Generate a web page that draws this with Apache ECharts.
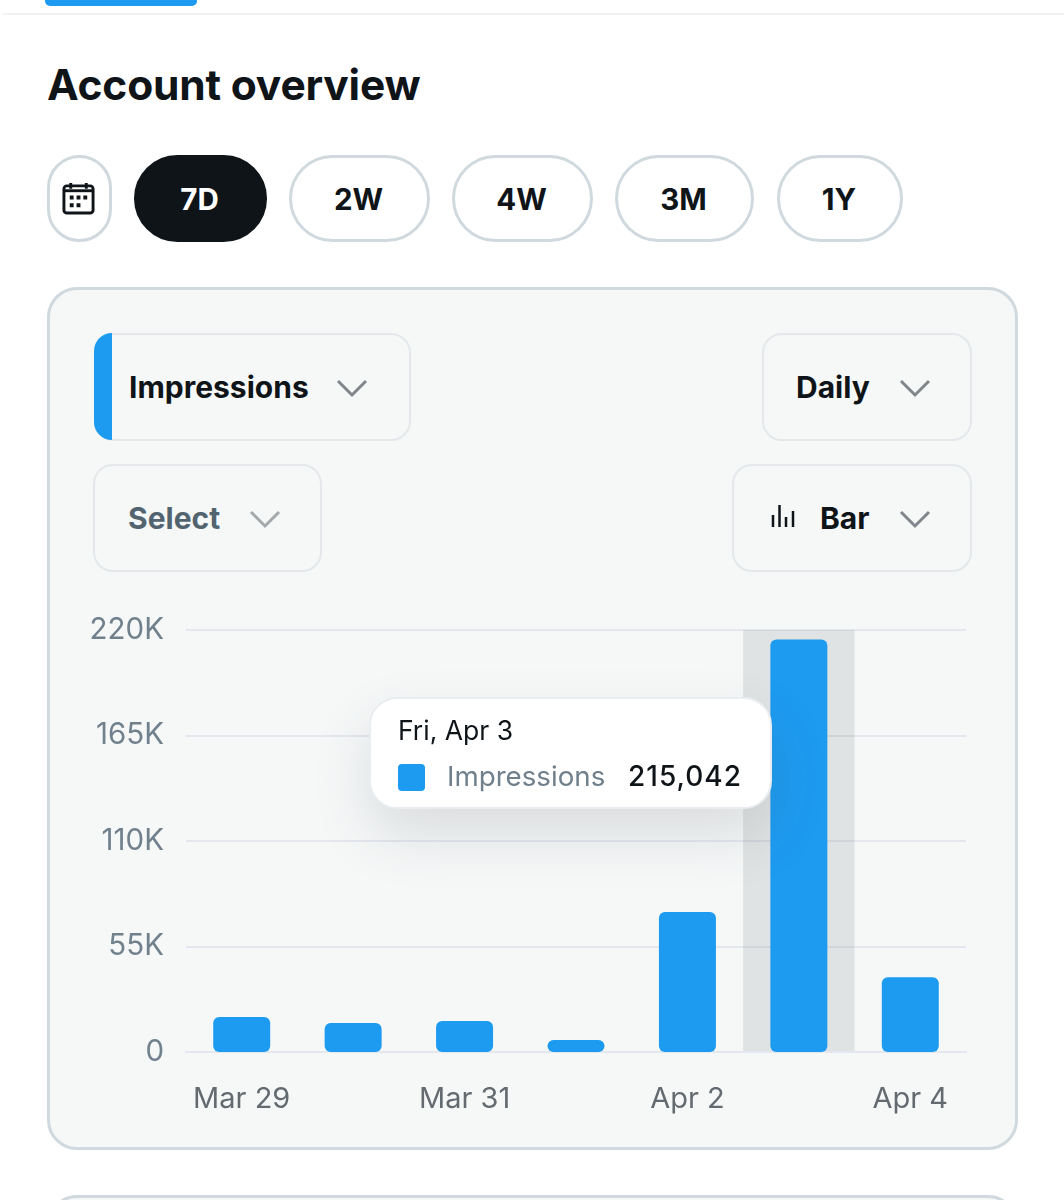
<!DOCTYPE html>
<html>
<head>
<meta charset="utf-8">
<title>Account overview</title>
<script src="https://cdn.jsdelivr.net/npm/echarts@6/dist/echarts.min.js"></script>
<style>
    html, body { margin: 0; padding: 0; background: #fff; }
    body { position: relative; width: 1064px; height: 1200px; overflow: hidden; font-family: Inter, "Noto Sans", sans-serif; color: #0f1419; }
    .abs { position: absolute; box-sizing: border-box; }
    .topbar { left: 45px; top: -8px; width: 152px; height: 14px; background: #1d9bf0; border-radius: 5px; }
    .divider { left: 3px; top: 13px; width: 1061px; height: 2px; background: #eff1f2; }
    h1 { position: absolute; left: 47px; top: 58px; margin: 0; font-size: 42.500px; line-height: 54px; font-weight: 700; letter-spacing: -0.2px; }
    .pill { top: 155px; height: 87px; border: 3px solid #cfd9de; border-radius: 44px; background: #fff; font-size: 29.500px; font-weight: 700; display: flex; align-items: center; justify-content: center; padding-right: 2px; }
    .pill.on { background: #0f1419; border-color: #0f1419; color: #fff; }
    .card { left: 47px; top: 287px; width: 971px; height: 863px; border: 3px solid #cfd9de; border-radius: 30px; background: #f6f8f8; }
    .next { left: 47px; top: 1195px; width: 971px; height: 60px; border: 3px solid #cfd9de; border-radius: 30px; background: #f6f8f8; }
    .drop { border: 2px solid #e4e8ea; border-radius: 20px; font-size: 30px; font-weight: 700; }
    .drop span, .drop svg { position: absolute; }
    .drop span { top: 50%; transform: translateY(-50%); line-height: 36px; }
    .stripe { left: 94px; top: 333px; width: 18px; height: 107px; background: #1d9bf0; border-radius: 18px 0 0 18px; }
    #main { position: absolute; left: 0; top: 0; width: 1064px; height: 1200px; }
</style>
</head>
<body>
<div class="abs topbar"></div>
<div class="abs divider"></div>
<h1>Account overview</h1>

<div class="abs pill" style="left:47px;width:65px">
    <svg width="33" height="33" viewBox="0 0 34 34" fill="none">
        <rect x="2" y="4" width="30" height="28" rx="3" stroke="#0f1419" stroke-width="3"/>
        <path d="M9 1v6M25 1v6" stroke="#0f1419" stroke-width="3"/>
        <path d="M2 9h30" stroke="#0f1419" stroke-width="3"/>
        <path d="M8 14h4v4H8zM15 14h4v4h-4zM22 14h4v4h-4zM8 22h4v4H8zM15 22h4v4h-4z" fill="#0f1419"/>
    </svg>
</div>
<div class="abs pill on" style="left:134px;width:133px">7D</div>
<div class="abs pill" style="left:289px;width:141px">2W</div>
<div class="abs pill" style="left:452px;width:141px">4W</div>
<div class="abs pill" style="left:615px;width:139px">3M</div>
<div class="abs pill" style="left:777px;width:126px">1Y</div>

<div class="abs card"></div>
<div class="abs next"></div>

<div class="abs drop" style="left:94px;top:333px;width:317px;height:108px">
    <span style="left:33px">Impressions</span>
    <svg style="left:240px;top:43px" width="32" height="20" viewBox="0 0 32 20" fill="none"><path d="M2 3l14 14L30 3" stroke="#808689" stroke-width="3"/></svg>
</div>
<div class="abs stripe"></div>
<div class="abs drop" style="left:762px;top:333px;width:210px;height:108px">
    <span style="left:32px">Daily</span>
    <svg style="left:135px;top:43px" width="32" height="20" viewBox="0 0 32 20" fill="none"><path d="M2 3l14 14L30 3" stroke="#808689" stroke-width="3"/></svg>
</div>
<div class="abs drop" style="left:93px;top:464px;width:229px;height:108px;color:#536471">
    <span style="left:33px">Select</span>
    <svg style="left:154px;top:43px" width="32" height="20" viewBox="0 0 32 20" fill="none"><path d="M2 3l14 14L30 3" stroke="#a3a8ab" stroke-width="3"/></svg>
</div>
<div class="abs drop" style="left:732px;top:464px;width:240px;height:108px">
    <svg style="left:37px;top:38px" width="24" height="24" viewBox="0 0 24 24" fill="none"><path d="M2 11v12M8.500 1v22M15 13v10M22 7v16" stroke="#0f1419" stroke-width="2.500"/></svg>
    <span style="left:86px">Bar</span>
    <svg style="left:165px;top:43px" width="32" height="20" viewBox="0 0 32 20" fill="none"><path d="M2 3l14 14L30 3" stroke="#808689" stroke-width="3"/></svg>
</div>

<div id="main"></div>
<script type="text/javascript">
    var dates = ['Mar 29', 'Mar 30', 'Mar 31', 'Apr 1', 'Apr 2', 'Apr 3', 'Apr 4'];
    var weekdays = ['Sun', 'Mon', 'Tue', 'Wed', 'Thu', 'Fri', 'Sat'];
    var impressions = [18200, 15100, 16200, 6300, 73000, 215042, 39000];
    var activeDay = 5;

    var myChart = echarts.init(document.getElementById('main'));
    var fontName = 'Inter, "Noto Sans", sans-serif';

    var option = {
        animation: false,
        backgroundColor: 'transparent',
        grid: { left: 186, top: 630, width: 780, height: 422 },
        tooltip: {
            trigger: 'axis',
            alwaysShowContent: true,
            transitionDuration: 0,
            position: [369, 697],
            padding: 0,
            borderWidth: 0,
            backgroundColor: 'transparent',
            extraCssText: 'box-shadow:none;',
            axisPointer: {
                type: 'shadow',
                z: 0,
                shadowStyle: { color: 'rgba(110,116,120,0.16)' }
            },
            formatter: function(params) {
                var p = params[0];
                return '<div style="box-sizing:border-box;width:403px;height:112px;background:#fff;border:2px solid #e9ecf0;border-radius:28px;' +
                    'box-shadow:0 26px 56px rgba(60,70,80,0.15);position:relative;font-family:Inter,sans-serif;">' +
                    '<div style="position:absolute;left:27px;top:13px;font-size:26.500px;line-height:36px;color:#0f1419;">' + weekdays[p.dataIndex] + ', ' + p.name + '</div>' +
                    '<div style="position:absolute;left:27px;top:65px;width:27px;height:27px;border-radius:4px;background:#1d9bf0;"></div>' +
                    '<div style="position:absolute;left:76px;top:59px;font-size:27.700px;line-height:36px;color:#6f7f8c;">' + p.seriesName + '</div>' +
                    '<div style="position:absolute;right:28px;top:59px;font-size:28px;letter-spacing:1px;line-height:36px;font-weight:500;color:#0f1419;">' + p.value.toLocaleString('en-US') + '</div>' +
                    '</div>';
            }
        },
        xAxis: {
            type: 'category',
            data: dates,
            axisTick: { show: false },
            axisLine: { lineStyle: { color: '#e4e7ee', width: 2 } },
            axisLabel: { interval: 1, color: '#636a70', fontFamily: fontName, fontSize: 29, margin: 33 }
        },
        yAxis: {
            type: 'value',
            min: 0,
            max: 220000,
            interval: 55000,
            axisLine: { show: false },
            axisTick: { show: false },
            splitLine: { lineStyle: { color: '#e4e7ee', width: 2 } },
            axisLabel: {
                color: '#71808d',
                fontFamily: fontName,
                fontSize: 29.500,
                margin: 22,
                formatter: function(v) { return v === 0 ? '0' : (v / 1000) + 'K'; }
            }
        },
        series: [{
            name: 'Impressions',
            type: 'bar',
            data: impressions,
            barWidth: 57,
            emphasis: { disabled: true },
            itemStyle: { color: '#1d9bf0', borderRadius: 6 }
        }]
    };

    myChart.setOption(option);
    myChart.dispatchAction({ type: 'showTip', seriesIndex: 0, dataIndex: activeDay });
</script>
</body>
</html>
